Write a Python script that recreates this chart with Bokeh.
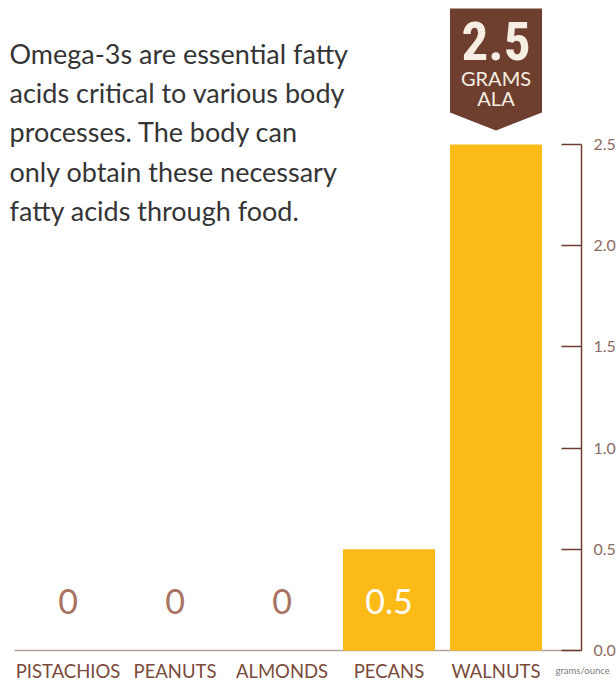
from bokeh.plotting import figure
from bokeh.models import FixedTicker, Range1d, ColumnDataSource
from bokeh.core.properties import value
from bokeh.embed import file_html
from bokeh.resources import INLINE

# ---- data ----
categories = ["PISTACHIOS", "PEANUTS", "ALMONDS", "PECANS", "WALNUTS"]
ala_grams = [0, 0, 0, 0.5, 2.5]
value_labels = ["0", "0", "0", "0.5", "2.5"]
y_ticks = [0.0, 0.5, 1.0, 1.5, 2.0, 2.5]
y_tick_labels = ["0.0", "0.5", "1.0", "1.5", "2.0", "2.5"]
intro_lines = [
    "Omega-3s are essential fatty",
    "acids critical to various body",
    "processes. The body can",
    "only obtain these necessary",
    "fatty acids through food.",
]
badge_unit_lines = ["GRAMS", "ALA"]
unit_label = "grams/ounce"

# ---- styling ----
BAR = "#FBBA16"
BROWN = "#6E3F2E"
LABEL_BROWN = "#7A4A3A"
TICK_LABEL = "#8B6B5F"
VALUE_BROWN = "#A87362"
TEXT = "#353535"
CREAM = "#F6EEE2"
FONT = "Lato"

REF = 202.4   # px per data unit (vertical)
XPX = 107.0   # px per category (horizontal)
def u(px):
    return px / REF
def ux(px):
    return px / XPX

W, H = 616, 680
idx = list(range(len(categories)))
BW = 0.86
X0 = -0.5 - ux(6)               # frame starts a little left of first band
X1 = X0 + ux(W - 8)             # frame runs to the right edge
XA = X0 + ux(573)               # where the value axis stands

p = figure(width=W, height=H, output_backend="svg", toolbar_location=None,
           x_range=Range1d(X0, X1), y_range=Range1d(-u(30), u(650)),
           y_axis_location="right", x_axis_location=None,
           min_border_left=8, min_border_top=0, min_border_right=0, min_border_bottom=0)
p.outline_line_color = None
p.grid.visible = False
p.background_fill_color = "white"

# baseline from the first band edge to the axis
p.segment(x0=[-0.5], y0=[0], x1=[XA], y1=[0], line_color="#B5A29C", line_width=1.5)

# bars
src = ColumnDataSource(dict(x=idx, top=ala_grams, cat=categories))
p.vbar(x="x", top="top", width=BW, source=src, color=BAR, line_color=None)

# category labels
p.text(x=idx, y=[-u(20)] * len(idx), text=categories, text_color=LABEL_BROWN,
       text_align="center", text_baseline="middle",
       text_font=value(FONT), text_font_size="18.5px")
p.text(x=[XA - ux(26)], y=[-u(20)], text=[unit_label], text_color="#7E7E7E",
       text_align="left", text_baseline="middle",
       text_font=value(FONT), text_font_size="9.5px")

# value labels (for small values drawn above baseline)
vx, vt, vc = [], [], []
for i, v in enumerate(ala_grams):
    if v < 2.0:
        vx.append(i)
        vt.append(value_labels[i])
        vc.append("white" if v > 0 else VALUE_BROWN)
p.text(x=vx, y=[u(49)] * len(vx), text=vt, text_color=vc,
       text_align="center", text_baseline="middle",
       text_font=value(FONT), text_font_size="34px")

# badge above the largest bar
imax = ala_grams.index(max(ala_grams))
top = ala_grams[imax]
bx = [imax - BW / 2, imax + BW / 2, imax + BW / 2, imax, imax - BW / 2]
by = [top + u(136), top + u(136), top + u(32), top + u(14), top + u(32)]
p.patch(bx, by, color=BROWN, line_color=None)
p.text(x=[imax], y=[top + u(104)], text=[value_labels[imax]], text_color=CREAM,
       text_align="center", text_baseline="middle",
       text_font=value("Roboto Condensed"), text_font_style="bold",
       text_font_size="53px")
p.text(x=[imax, imax], y=[top + u(66.5), top + u(46.5)], text=badge_unit_lines,
       text_color=CREAM, text_align="center", text_baseline="middle",
       text_font=value(FONT), text_font_size="20px")

# intro text
centers_px = [597.4, 558.4, 518.9, 479.4, 440.4]
p.text(x=[-0.5 - ux(5)] * len(intro_lines), y=[u(c) for c in centers_px], text=intro_lines,
       text_color=TEXT, text_align="left", text_baseline="middle",
       text_font=value(FONT), text_font_size="27px")

# value axis: Bokeh axis placed at XA, labels drawn beside it
p.yaxis.fixed_location = XA
p.yaxis.ticker = FixedTicker(ticks=y_ticks)
p.yaxis.major_label_overrides = {t: "" for t in y_ticks}
p.yaxis.major_label_standoff = 0
p.yaxis.bounds = (0, 2.5)
p.yaxis.axis_line_color = BROWN
p.yaxis.axis_line_width = 1.5
p.yaxis.major_tick_line_color = BROWN
p.yaxis.major_tick_line_width = 1.5
p.yaxis.major_tick_in = 20
p.yaxis.major_tick_out = 0
p.yaxis.minor_tick_line_color = None
p.text(x=[XA + ux(12)] * len(y_ticks), y=y_ticks, text=y_tick_labels,
       text_color=TICK_LABEL, text_align="left", text_baseline="middle",
       text_font=value(FONT), text_font_size="16px")

open("out.html", "w").write(file_html(p, INLINE))
